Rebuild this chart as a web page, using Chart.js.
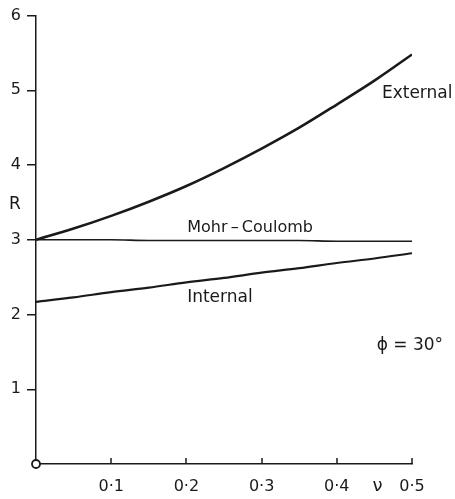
<!DOCTYPE html>
<html><head><meta charset="utf-8">
<script src="https://cdn.jsdelivr.net/npm/chart.js@4.4.0/dist/chart.umd.min.js"></script>
<style>html,body{margin:0;padding:0;background:#fff}</style>
</head><body>
<canvas id="c" width="455" height="499" style="display:block;width:455px;height:499px"></canvas>
<script>
// Data
const nu          = [0.00, 0.05, 0.10, 0.15, 0.20, 0.25, 0.30, 0.35, 0.40, 0.45, 0.50];
const external    = [3.00, 3.15, 3.32, 3.51, 3.72, 3.96, 4.22, 4.50, 4.81, 5.13, 5.48];
const mohrCoulomb = [3.00, 3.00, 3.00, 2.99, 2.99, 2.99, 2.99, 2.99, 2.98, 2.98, 2.98];
const internal    = [2.17, 2.23, 2.30, 2.36, 2.43, 2.49, 2.56, 2.62, 2.69, 2.75, 2.82];
const xTicks      = [0.1, 0.2, 0.3, 0.4, 0.5];
const xTickLabels = ['0·1', '0·2', '0·3', '0·4', '0·5'];
const yTicks      = [1, 2, 3, 4, 5, 6];
const yTickLabels = ['1', '2', '3', '4', '5', '6'];

const INK = '#1a1a1a';
const FONT = '"DejaVu Sans", sans-serif';

const pts = arr => arr.map((v, i) => ({x: nu[i], y: v}));

const overlay = {
  id: 'overlay',
  afterDraw(chart) {
    const {ctx, scales: {x, y}, chartArea} = chart;
    ctx.save();
    ctx.strokeStyle = INK;
    ctx.lineWidth = 1.5;
    // inward ticks on the x axis
    xTicks.forEach(v => {
      const px = Math.round(x.getPixelForValue(v));
      ctx.beginPath();
      ctx.moveTo(px, chartArea.bottom);
      ctx.lineTo(px, chartArea.bottom - 6);
      ctx.stroke();
    });
    // origin circle
    ctx.beginPath();
    ctx.arc(x.getPixelForValue(0), y.getPixelForValue(0), 4, 0, Math.PI * 2);
    ctx.fillStyle = '#fff';
    ctx.fill();
    ctx.lineWidth = 1.8;
    ctx.stroke();

    ctx.fillStyle = INK;
    ctx.font = '17px ' + FONT;
    ctx.textBaseline = 'middle';
    ctx.textAlign = 'left';
    const label = (t, vx, vy) => ctx.fillText(t, x.getPixelForValue(vx), y.getPixelForValue(vy));
    label('External', 0.460, 4.96);
    label('Internal', 0.201, 2.23);
    label('ϕ = 30°', 0.453, 1.59);
    ctx.font = '16px ' + FONT;
    label('Mohr\u2009–\u2009Coulomb', 0.201, 3.16);
    // axis titles
    ctx.font = '17px ' + FONT;
    ctx.textAlign = 'center';
    ctx.fillText('R', chartArea.left - 21, y.getPixelForValue(3.47));
    ctx.font = '18px ' + FONT;
    ctx.fillText('ν', x.getPixelForValue(0.454), chartArea.bottom + 22);
    ctx.restore();
  }
};

new Chart(document.getElementById('c'), {
  type: 'line',
  data: {
    datasets: [
      {label: 'External', data: pts(external), borderColor: INK, borderWidth: 2.6, pointRadius: 0, cubicInterpolationMode: 'monotone', fill: false},
      {label: 'Mohr – Coulomb', data: pts(mohrCoulomb), borderColor: INK, borderWidth: 1.6, pointRadius: 0, cubicInterpolationMode: 'monotone', fill: false},
      {label: 'Internal', data: pts(internal), borderColor: INK, borderWidth: 2.2, pointRadius: 0, cubicInterpolationMode: 'monotone', fill: false}
    ]
  },
  options: {
    responsive: false,
    animation: false,
    layout: {padding: {top: 14, right: 43, left: 0, bottom: 0}},
    plugins: {legend: {display: false}, tooltip: {enabled: false}},
    scales: {
      x: {
        type: 'linear', min: 0, max: 0.5,
        afterBuildTicks: s => { s.ticks = xTicks.map(v => ({value: v})); },
        afterFit: s => { s.height = 35; },
        grid: {display: false, drawOnChartArea: false, drawTicks: false},
        border: {display: true, color: INK, width: 1.5},
        ticks: {
          color: INK, padding: 13, maxRotation: 0, autoSkip: false,
          font: {family: FONT, size: 16},
          callback: (v, i) => xTickLabels[i]
        }
      },
      y: {
        type: 'linear', min: 0, max: 6,
        afterBuildTicks: s => { s.ticks = yTicks.map(v => ({value: v})); },
        afterFit: s => { s.width = 36; },
        grid: {display: true, drawOnChartArea: false, drawTicks: true, tickLength: 9, color: INK, lineWidth: 1.5},
        border: {display: true, color: INK, width: 1.5},
        ticks: {
          color: INK, padding: 6, autoSkip: false,
          font: {family: FONT, size: 16},
          callback: (v, i) => yTickLabels[i]
        }
      }
    }
  },
  plugins: [overlay]
});
</script>
</body></html>
